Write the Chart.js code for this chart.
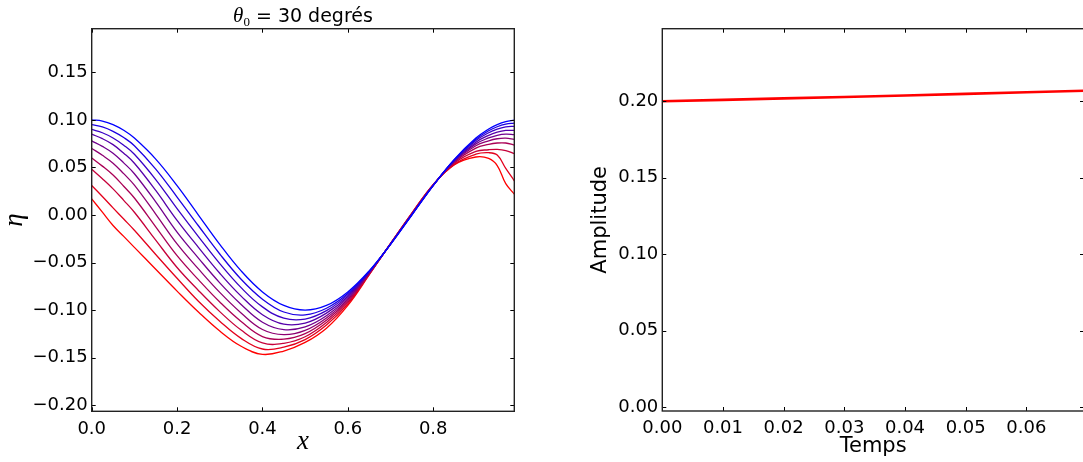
<!DOCTYPE html>
<html><head><meta charset="utf-8">
<script src="https://cdn.jsdelivr.net/npm/chart.js@4.4.1/dist/chart.umd.min.js"></script>
<style>
html,body{margin:0;padding:0;background:#fff;overflow:hidden;width:1083px;height:462px;position:relative;}
#c1{position:absolute;left:0;top:0;width:540px;height:462px;}
#c2{position:absolute;left:560px;top:0;width:530px;height:462px;}
</style></head><body>
<canvas id="c1" width="540" height="462"></canvas>
<canvas id="c2" width="530" height="462"></canvas>
<script>
// ---------- data (left panel: surface elevation eta(x) at 10 successive times) ----------
const X = [0, 0.025, 0.05, 0.075, 0.1, 0.15, 0.2, 0.25, 0.3, 0.35, 0.4, 0.45, 0.5, 0.55, 0.6, 0.65, 0.7, 0.75, 0.8, 0.85, 0.9, 0.93, 0.95, 0.97, 0.99];
const eta_t0 = [0.1000, 0.0988, 0.0951, 0.0891, 0.0809, 0.0588, 0.0309, 0.0000, -0.0309, -0.0588, -0.0809, -0.0951, -0.1000, -0.0951, -0.0809, -0.0588, -0.0309, 0.0000, 0.0309, 0.0588, 0.0809, 0.0905, 0.0951, 0.0982, 0.0998];
const eta_t1 = [0.0950, 0.0926, 0.0880, 0.0815, 0.0729, 0.0483, 0.0189, -0.0113, -0.0410, -0.0675, -0.0885, -0.1020, -0.1050, -0.0980, -0.0825, -0.0593, -0.0308, 0.0002, 0.0310, 0.0584, 0.0797, 0.0886, 0.0928, 0.0955, 0.0967];
const eta_t2 = [0.0900, 0.0865, 0.0810, 0.0734, 0.0639, 0.0373, 0.0067, -0.0227, -0.0511, -0.0764, -0.0966, -0.1085, -0.1094, -0.1006, -0.0840, -0.0597, -0.0307, 0.0004, 0.0311, 0.0580, 0.0783, 0.0865, 0.0903, 0.0926, 0.0933];
const eta_t3 = [0.0850, 0.0803, 0.0740, 0.0650, 0.0544, 0.0258, -0.0056, -0.0340, -0.0612, -0.0853, -0.1048, -0.1148, -0.1137, -0.1032, -0.0856, -0.0602, -0.0306, 0.0006, 0.0312, 0.0575, 0.0766, 0.0838, 0.0871, 0.0889, 0.0890];
const eta_t4 = [0.0780, 0.0722, 0.0650, 0.0548, 0.0434, 0.0138, -0.0180, -0.0453, -0.0713, -0.0940, -0.1127, -0.1205, -0.1176, -0.1059, -0.0871, -0.0607, -0.0305, 0.0008, 0.0313, 0.0570, 0.0748, 0.0810, 0.0838, 0.0850, 0.0845];
const eta_t5 = [0.0700, 0.0628, 0.0545, 0.0435, 0.0314, 0.0010, -0.0304, -0.0567, -0.0814, -0.1030, -0.1204, -0.1258, -0.1213, -0.1082, -0.0887, -0.0611, -0.0304, 0.0010, 0.0314, 0.0564, 0.0728, 0.0780, 0.0802, 0.0808, 0.0796];
const eta_t6 = [0.0600, 0.0514, 0.0420, 0.0303, 0.0179, -0.0124, -0.0428, -0.0680, -0.0915, -0.1120, -0.1278, -0.1306, -0.1248, -0.1106, -0.0902, -0.0616, -0.0303, 0.0013, 0.0315, 0.0557, 0.0704, 0.0743, 0.0757, 0.0757, 0.0736];
const eta_t7 = [0.0480, 0.0381, 0.0275, 0.0154, 0.0029, -0.0264, -0.0552, -0.0793, -0.1016, -0.1210, -0.1345, -0.1349, -0.1280, -0.1130, -0.0918, -0.0621, -0.0302, 0.0015, 0.0316, 0.0546, 0.0668, 0.0686, 0.0690, 0.0678, 0.0645];
const eta_t8 = [0.0310, 0.0194, 0.0075, -0.0042, -0.0160, -0.0415, -0.0665, -0.0907, -0.1117, -0.1297, -0.1409, -0.1390, -0.1310, -0.1157, -0.0934, -0.0625, -0.0301, 0.0018, 0.0318, 0.0535, 0.0640, 0.0655, 0.0630, 0.0490, 0.0360];
const eta_t9 = [0.0170, 0.0030, -0.0110, -0.0225, -0.0340, -0.0570, -0.0800, -0.1020, -0.1220, -0.1380, -0.1465, -0.1430, -0.1340, -0.1190, -0.0950, -0.0630, -0.0300, 0.0020, 0.0320, 0.0530, 0.0610, 0.0595, 0.0520, 0.0330, 0.0220];
const etaSeries = [eta_t0, eta_t1, eta_t2, eta_t3, eta_t4, eta_t5, eta_t6, eta_t7, eta_t8, eta_t9];

// ---------- data (right panel: amplitude vs time) ----------
const temps = [0, 0.01, 0.02, 0.03, 0.04, 0.05, 0.06, 0.07];
const amplitude = [0.2000, 0.2009, 0.2019, 0.2028, 0.2038, 0.2048, 0.2059, 0.2069];

// ---------- tick settings ----------
const leftXTicks = {step: 0.2, decimals: 1};
const leftYTicks = {step: 0.05, decimals: 2};
const rightXTicks = {step: 0.01, decimals: 2};
const rightYTicks = {step: 0.05, decimals: 2};

const FONT = "'DejaVu Sans', sans-serif";
const fmt = d => v => { const s = Math.abs(v) < 1e-12 ? (0).toFixed(d) : v.toFixed(d); return s.replace('-', '\u2212'); };

const framePlugin = {
  id: 'frame',
  afterDatasetsDraw(chart, args, opts) {
    const {ctx, chartArea: a, scales} = chart;
    ctx.save();
    const L = 4;
    ctx.strokeStyle = '#000'; ctx.lineWidth = 1;
    ctx.beginPath();
    scales.x.ticks.forEach(t => {
      const px = Math.round(scales.x.getPixelForValue(t.value)) + 0.5;
      ctx.moveTo(px, a.bottom); ctx.lineTo(px, a.bottom - L);
      ctx.moveTo(px, a.top); ctx.lineTo(px, a.top + L);
    });
    scales.y.ticks.forEach(t => {
      const py = Math.round(scales.y.getPixelForValue(t.value)) + 0.5;
      ctx.moveTo(a.left, py); ctx.lineTo(a.left + L, py);
      ctx.moveTo(a.right, py); ctx.lineTo(a.right - L, py);
    });
    ctx.stroke();
    ctx.strokeStyle = '#222'; ctx.lineWidth = 1.4;
    ctx.strokeRect(a.left, a.top, a.right - a.left, a.bottom - a.top);
    if (opts.draw) opts.draw(ctx, a);
    ctx.restore();
  }
};

function baseScale(min, max, tk, axis, fit) {
  return {
    type: 'linear', min, max,
    grid: {display: false, drawTicks: false},
    border: {display: false},
    afterFit: fit,
    ticks: {
      stepSize: tk.step, includeBounds: false, autoSkip: false, maxRotation: 0,
      color: '#000', font: {family: FONT, size: 18},
      padding: axis === 'x' ? 7 : 4,
      callback: fmt(tk.decimals)
    }
  };
}

// ---------- left chart ----------
const leftDatasets = etaSeries.map((s, k) => {
  const f = k / (etaSeries.length - 1);
  const col = `rgb(${Math.round(255 * f)},0,${Math.round(255 * (1 - f))})`;
  return {
    data: X.map((x, i) => ({x, y: s[i]})),
    borderColor: col, borderWidth: 1.3, pointRadius: 0,
    tension: 0.4, fill: false
  };
});

new Chart(document.getElementById('c1'), {
  type: 'line',
  data: {datasets: leftDatasets},
  options: {
    responsive: false, animation: false, devicePixelRatio: 1,
    layout: {padding: {left: 0, right: 540 - 514.3, top: 28.7, bottom: 0}},
    plugins: {
      legend: {display: false}, tooltip: {enabled: false},
      frame: {
        draw(ctx, a) {
          ctx.fillStyle = '#000';
          const cx = (a.left + a.right) / 2, by = 21.5;
          const f1 = "italic 21px 'Liberation Serif', serif";
          const f2 = "13px 'Liberation Serif', serif";
          const f3 = "19px " + FONT;
          const t3 = ' = 30 degrés';
          ctx.font = f1; const w1 = ctx.measureText('θ').width;
          ctx.font = f2; const w2 = ctx.measureText('0').width;
          ctx.font = f3; const w3 = ctx.measureText(t3).width;
          let x0 = cx - (w1 + w2 + w3) / 2;
          ctx.textBaseline = 'alphabetic'; ctx.textAlign = 'left';
          ctx.font = f1; ctx.fillText('θ', x0, by); x0 += w1;
          ctx.font = f2; ctx.fillText('0', x0, by + 4); x0 += w2;
          ctx.font = f3; ctx.fillText(t3, x0, by);
          ctx.font = "italic 27px 'Liberation Serif', serif";
          ctx.textAlign = 'center'; ctx.textBaseline = 'alphabetic';
          ctx.fillText('x', cx, 449);
          ctx.save();
          ctx.translate(22, (a.top + a.bottom) / 2);
          ctx.rotate(-Math.PI / 2);
          ctx.fillText('η', 0, 0);
          ctx.restore();
        }
      }
    },
    scales: {
      x: baseScale(0, 0.99, leftXTicks, 'x', s => { s.height = 462 - 411.3; }),
      y: baseScale(-0.2064, 0.1959, leftYTicks, 'y', s => { s.width = 91.7; })
    }
  },
  plugins: [framePlugin]
});

// ---------- right chart ----------
new Chart(document.getElementById('c2'), {
  type: 'line',
  data: {datasets: [{
    data: temps.map((t, i) => ({x: t, y: amplitude[i]})),
    borderColor: 'rgb(255,0,0)', borderWidth: 2.6, pointRadius: 0, fill: false
  }]},
  options: {
    responsive: false, animation: false, devicePixelRatio: 1,
    layout: {padding: {left: 0, right: 6, top: 28.7, bottom: 0}},
    plugins: {
      legend: {display: false}, tooltip: {enabled: false},
      frame: {
        draw(ctx, a) {
          ctx.fillStyle = '#000';
          ctx.font = "21px " + FONT;
          ctx.textAlign = 'center'; ctx.textBaseline = 'alphabetic';
          ctx.fillText('Temps', (a.left + a.right) / 2, 452);
          ctx.save();
          ctx.translate(46, (a.top + a.bottom) / 2);
          ctx.rotate(-Math.PI / 2);
          ctx.fillText('Amplitude', 0, 0);
          ctx.restore();
        }
      }
    },
    scales: {
      x: baseScale(0, 0.0695, rightXTicks, 'x', s => { s.height = 462 - 411; }),
      y: baseScale(-0.0024, 0.2474, rightYTicks, 'y', s => { s.width = 102.3; })
    }
  },
  plugins: [framePlugin]
});
</script></body></html>
